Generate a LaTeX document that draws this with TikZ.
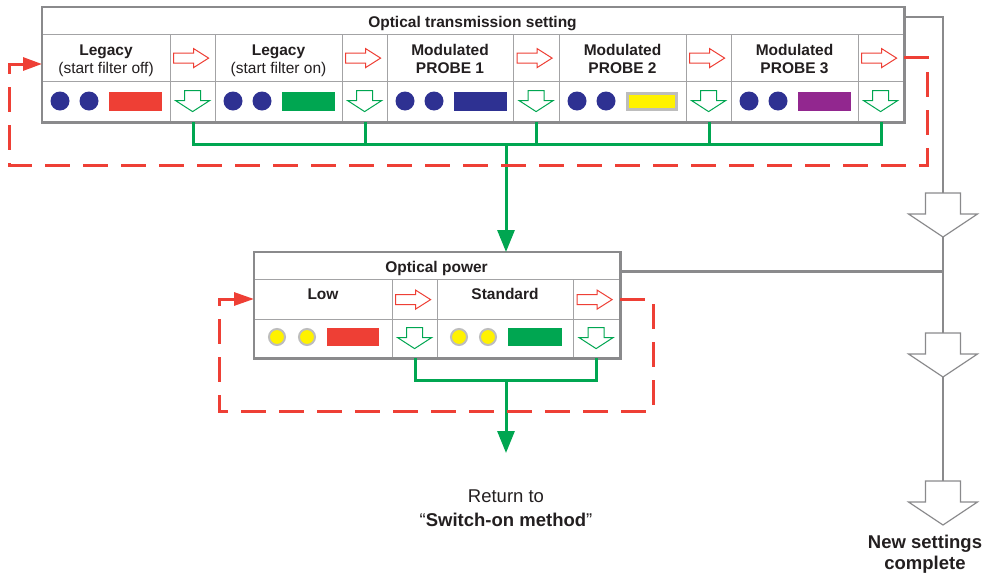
\documentclass[tikz,border=0pt]{standalone}
\usepackage{fontspec}
\setmainfont{Liberation Sans}
\usetikzlibrary{arrows.meta}
\definecolor{cred}{HTML}{EE3F35}
\definecolor{cgreen}{HTML}{00A651}
\definecolor{cnavy}{HTML}{2E3192}
\definecolor{cyellow}{HTML}{FFF200}
\definecolor{cpurple}{HTML}{92278F}
\definecolor{cgrey}{HTML}{8A8A8C}
\definecolor{cgrid}{HTML}{A3A3A5}
\definecolor{cring}{HTML}{BDBDBD}
\definecolor{ctext}{HTML}{231F20}
\begin{document}
\begin{tikzpicture}[x=1pt,y=-1pt,
  cell/.style 2 args={draw=cgrid,line width=1.2pt,fill=white,inner sep=0pt,anchor=north west,minimum width=#1,minimum height=#2},
  frame/.style={draw=cgrey,line width=2.6pt},
  lbl/.style={anchor=base,inner sep=0pt,text=ctext,font=\fontsize{15.5}{18}\selectfont},
  blbl/.style={lbl,font=\fontsize{15.5}{18}\selectfont\bfseries},
  big/.style={anchor=base,inner sep=0pt,text=ctext,font=\fontsize{18.5}{22}\selectfont},
  redarrow/.pic={\draw[cred,line width=1pt,fill=white,line join=miter]
     (-19.5,-5) -- (0.5,-5) -- (0.5,-9.5) -- (15.5,0) -- (0.5,9.5) -- (0.5,5) -- (-19.5,5) -- cycle;},
  greenarrow/.pic={\draw[cgreen,line width=1pt,fill=white,line join=miter]
     (-8.5,-11) -- (7.5,-11) -- (7.5,-1) -- (16.5,-1) -- (-0.5,10) -- (-17.5,-1) -- (-8.5,-1) -- cycle;},
  greyarrow/.pic={\draw[cgrey,line width=1.2pt,fill=white,line join=miter]
     (-17.5,0) -- (17.5,0) -- (17.5,21) -- (34.5,21) -- (0,44) -- (-34.5,21) -- (-17.5,21) -- cycle;},
  gline/.style={cgreen,line width=3pt},
  rdash/.style={cred,line width=3pt,dash pattern=on 25pt off 13pt},
  greyline/.style={cgrey,line width=2.6pt}
]
\useasboundingbox (0,0) rectangle (986,576);

% ---------- top table ----------
\node[cell={861pt}{27pt}] (ttl) at (42,7) {};
\foreach \n/\x/\w in {1/42/128,2/215/127,3/387/126,4/559/127,5/731/127}{
  \node[cell={\w pt}{47pt}] (lab\n) at (\x,34) {};
  \node[cell={\w pt}{40pt}] (bot\n) at (\x,81) {};
}
\foreach \n/\x/\w in {1/170/45,2/342/45,3/513/46,4/686/45,5/858/45}{
  \node[cell={\w pt}{47pt}] (ra\n) at (\x,34) {};
  \node[cell={\w pt}{40pt}] (ga\n) at (\x,81) {};
  \pic at (ra\n.center) {redarrow};
  \pic at (ga\n.center) {greenarrow};
}
\draw[frame] (ttl.north west) rectangle (ga5.south east);

\node[blbl] (tt) at (472.5,27) {Optical transmission setting};
\node[blbl] (t1a) at (106,55) {Legacy};
\node[lbl] (t1b) at (106,73) {(start filter off)};
\node[blbl] (t2a) at (278.5,55) {Legacy};
\node[lbl] (t2b) at (278.5,73) {(start filter on)};
\node[blbl] (t3a) at (450,55) {Modulated};
\node[blbl] (t3b) at (450,73) {PROBE 1};
\node[blbl] (t4a) at (622.5,55) {Modulated};
\node[blbl] (t4b) at (622.5,73) {PROBE 2};
\node[blbl] (t5a) at (794.5,55) {Modulated};
\node[blbl] (t5b) at (794.5,73) {PROBE 3};

\foreach \x/\c in {42/cred,215/cgreen,387/cnavy,731/cpurple}{
  \fill[cnavy] (\x+18,101) circle (9.5pt);
  \fill[cnavy] (\x+47,101) circle (9.5pt);
  \fill[\c] (\x+67,92) rectangle (\x+120,111);
}
\fill[cnavy] (577,101) circle (9.5pt);
\fill[cnavy] (606,101) circle (9.5pt);
\filldraw[fill=cyellow,draw=cring,line width=3pt] (627.5,93.5) rectangle (676.5,109.5);

% ---------- optical power table ----------
\node[cell={365pt}{27pt}] (pttl) at (254,252) {};
\node[cell={138pt}{40pt}] (plow) at (254,279) {};
\node[cell={45pt}{40pt}] (pra1) at (392,279) {};
\node[cell={136pt}{40pt}] (pstd) at (437,279) {};
\node[cell={46pt}{40pt}] (pra2) at (573,279) {};
\node[cell={138pt}{38pt}] (pb1) at (254,319) {};
\node[cell={45pt}{38pt}] (pga1) at (392,319) {};
\node[cell={136pt}{38pt}] (pb2) at (437,319) {};
\node[cell={46pt}{38pt}] (pga2) at (573,319) {};
\pic at (pra1.center) {redarrow};
\pic at (pra2.center) {redarrow};
\pic at (pga1.center) {greenarrow};
\pic at (pga2.center) {greenarrow};
\draw[frame] (pttl.north west) rectangle (pga2.south east);

\node[blbl] (pt) at (436.5,272) {Optical power};
\node[blbl] (plt) at (323,299) {Low};
\node[blbl] (pst) at (505,299) {Standard};

\foreach \x in {277,307,459,488}{
  \filldraw[fill=cyellow,draw=cring,line width=2pt] (\x,337) circle (8pt);
}
\fill[cred] (327,328) rectangle (379,346);
\fill[cgreen] (508,328) rectangle (562,346);

% ---------- green connectors ----------
\coordinate (bus) at (506,144);
\coordinate (pbus) at (506,380);
\draw[gline] (ga1.south) -- (ga1.south |- bus) -- (ga5.south |- bus) -- (ga5.south);
\foreach \n in {2,3,4}{\draw[gline] (ga\n.south) -- (ga\n.south |- bus);}
\draw[gline,-{Triangle[length=22pt,width=17pt]}] (bus) -- (bus |- pttl.north);
\draw[gline] (pga1.south) -- (pga1.south |- pbus) -- (pga2.south |- pbus) -- (pga2.south);
\coordinate (ret) at (506,453);
\draw[gline,-{Triangle[length=22pt,width=17pt]}] (pbus) -- (ret);

\node[big] (r1) at (506,502) {Return to};
\node[big] (r2) at (506,526) {“\textbf{Switch-on method}”};

% ---------- red dashed loops ----------
\coordinate (rl1) at (927,165);
\coordinate (rl2) at (9,64);
\draw[rdash,-{Triangle[length=19pt,width=13pt]}] (ra5.east |- 0,57) -- (rl1 |- 0,57) -- (rl1) -- (rl2 |- rl1) -- (rl2) -- (lab1.west |- rl2);
\coordinate (pl1) at (653,411);
\coordinate (pl2) at (219,299);
\draw[rdash,-{Triangle[length=20pt,width=13pt]}] (pra2.east |- pl2) -- (pl1 |- pl2) -- (pl1) -- (pl2 |- pl1) -- (pl2) -- (plow.west |- pl2);

% ---------- grey path ----------
\pic at (943,193) {greyarrow};
\pic at (943,333) {greyarrow};
\pic at (943,481) {greyarrow};
\coordinate (g1t) at (943,193);
\coordinate (g1b) at (943,237);
\coordinate (g2t) at (943,333);
\coordinate (g2b) at (943,377);
\coordinate (g3t) at (943,481);
\draw[greyline] (ttl.east |- 0,17) -- (g1t |- 0,17) -- (g1t);
\draw[cgrey,line width=2pt] (g1b) -- (g2t);
\draw[cgrey,line width=2pt] (g2b) -- (g3t);
\draw[cgrey,line width=3pt] (pttl.east |- 0,271) -- (g1b |- 0,271);

\node[big,font=\fontsize{18.5}{22}\selectfont\bfseries] (ns1) at (925,548) {New settings};
\node[big,font=\fontsize{18.5}{22}\selectfont\bfseries] (ns2) at (925,569) {complete};
\end{tikzpicture}
\end{document}
